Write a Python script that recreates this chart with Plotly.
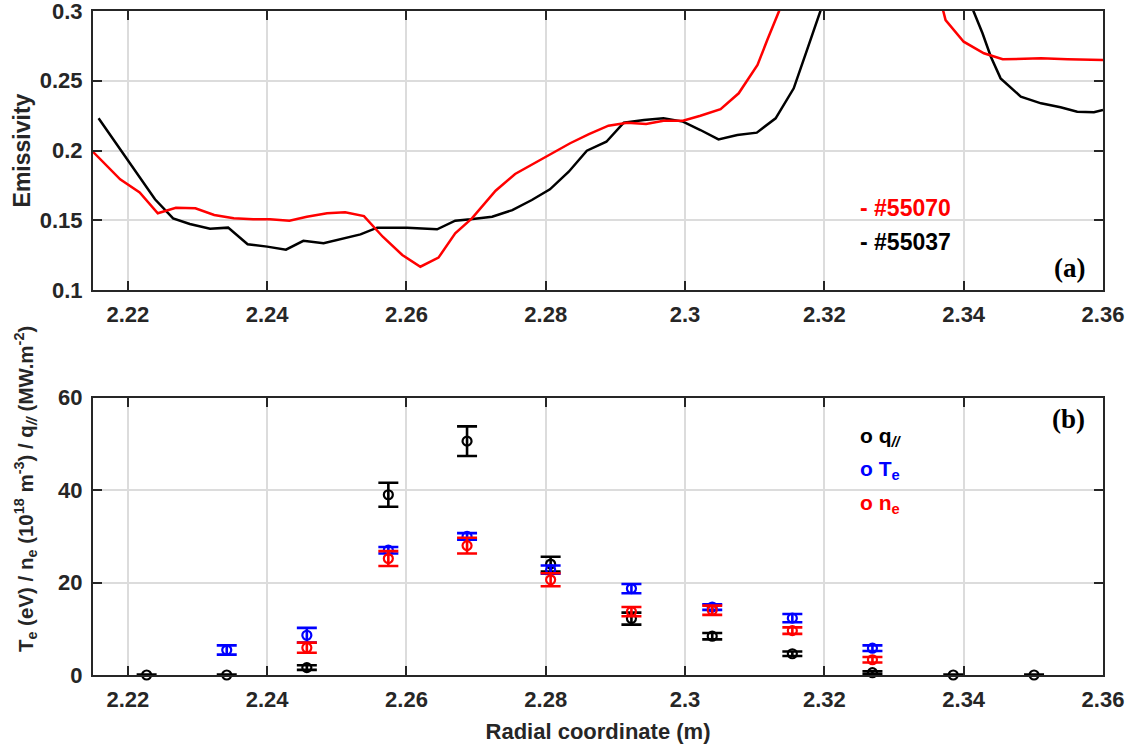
import plotly.graph_objects as go

# ---- Panel (a): emissivity profiles ----
r_55037 = [2.2158, 2.2239, 2.2265, 2.2289, 2.2318, 2.2344, 2.2372, 2.2400, 2.2427, 2.2452,
           2.2481, 2.2510, 2.2534, 2.2558, 2.2601, 2.2644, 2.2670, 2.2692, 2.2723, 2.2752,
           2.2780, 2.2806, 2.2833, 2.2859, 2.2887, 2.2912, 2.2941, 2.2969, 2.2997, 2.3022,
           2.3048, 2.3075, 2.3103, 2.3130, 2.3156, 2.3175, 2.3195, 2.3215, 2.3300, 2.3390,
           2.3414, 2.3427, 2.3439, 2.3453, 2.3482, 2.3511, 2.3539, 2.3563, 2.3587, 2.3600]
e_55037 = [0.2231, 0.1650, 0.1514, 0.1473, 0.1440, 0.1447, 0.1328, 0.1311, 0.1289, 0.1353,
           0.1335, 0.1370, 0.1399, 0.1447, 0.1447, 0.1435, 0.1497, 0.1507, 0.1525, 0.1573,
           0.1645, 0.1722, 0.1848, 0.1999, 0.2063, 0.2199, 0.2219, 0.2231, 0.2207, 0.2147,
           0.2080, 0.2111, 0.2128, 0.2231, 0.2446, 0.2720, 0.3000, 0.3300, 0.4200, 0.3400,
           0.3000, 0.2840, 0.2672, 0.2517, 0.2386, 0.2338, 0.2310, 0.2278, 0.2274, 0.2290]

r_55070 = [2.2150, 2.2189, 2.2217, 2.2243, 2.2269, 2.2297, 2.2324, 2.2352, 2.2380, 2.2404,
           2.2432, 2.2457, 2.2486, 2.2512, 2.2539, 2.2566, 2.2594, 2.2620, 2.2646, 2.2670,
           2.2694, 2.2728, 2.2756, 2.2783, 2.2809, 2.2835, 2.2862, 2.2890, 2.2917, 2.2944,
           2.2969, 2.2997, 2.3022, 2.3051, 2.3077, 2.3104, 2.3118, 2.3135, 2.3155, 2.3250,
           2.3350, 2.3371, 2.3374, 2.3400, 2.3429, 2.3456, 2.3511, 2.3549, 2.3600]
e_55070 = [0.1991, 0.1793, 0.1700, 0.1550, 0.1590, 0.1586, 0.1538, 0.1514, 0.1507, 0.1507,
           0.1497, 0.1525, 0.1550, 0.1557, 0.1530, 0.1382, 0.1251, 0.1167, 0.1232, 0.1406,
           0.1514, 0.1712, 0.1832, 0.1908, 0.1984, 0.2052, 0.2118, 0.2178, 0.2199, 0.2190,
           0.2214, 0.2214, 0.2249, 0.2297, 0.2410, 0.2613, 0.2792, 0.3000, 0.3300, 0.4200,
           0.3400, 0.3000, 0.2935, 0.2780, 0.2697, 0.2654, 0.2661, 0.2654, 0.2649]

# ---- Panel (b): probe measurements ----
r_q = [2.2227, 2.2342, 2.2457, 2.2574, 2.2687, 2.2807, 2.2923, 2.3039, 2.3154, 2.3269, 2.3385, 2.3501]
q_par = [0.0, 0.0, 1.6, 39.0, 50.6, 24.0, 12.2, 8.4, 4.6, 0.5, 0.0, 0.0]
q_err = [0.1, 0.1, 0.5, 2.6, 3.2, 1.6, 1.3, 0.7, 0.5, 0.3, 0.1, 0.1]

r_T = [2.2342, 2.2457, 2.2574, 2.2687, 2.2807, 2.2923, 2.3039, 2.3154, 2.3269]
T_e = [5.4, 8.6, 27.0, 30.0, 22.8, 18.7, 14.7, 12.3, 5.8]
T_err = [1.0, 1.6, 0.7, 0.7, 0.9, 1.0, 0.6, 0.9, 0.6]

r_n = [2.2457, 2.2574, 2.2687, 2.2807, 2.2923, 2.3039, 2.3154, 2.3269]
n_e = [5.9, 25.2, 28.0, 20.6, 13.7, 14.0, 9.6, 3.3]
n_err = [1.1, 1.6, 1.7, 1.4, 1.0, 1.0, 0.7, 0.6]

x_ticks = [2.22, 2.24, 2.26, 2.28, 2.30, 2.32, 2.34, 2.36]
x_ticktext = ["2.22", "2.24", "2.26", "2.28", "2.3", "2.32", "2.34", "2.36"]
ya_ticks = [0.1, 0.15, 0.2, 0.25, 0.3]
ya_ticktext = ["0.1", "0.15", "0.2", "0.25", "0.3"]
yb_ticks = [0, 20, 40, 60]

AX = "#262626"
GRID = "#dcdcdc"
FONT = "Liberation Sans, Arial, sans-serif"
SERIF = "Liberation Serif, Times New Roman, serif"

fig = go.Figure()

fig.add_trace(go.Scatter(x=r_55037, y=e_55037, mode="lines",
                         line=dict(color="black", width=2.5), xaxis="x", yaxis="y",
                         showlegend=False))
fig.add_trace(go.Scatter(x=r_55070, y=e_55070, mode="lines",
                         line=dict(color="#ff0000", width=2.5), xaxis="x", yaxis="y",
                         showlegend=False))

def probe(xs, ys, errs, color):
    return go.Scatter(x=xs, y=ys, mode="markers", xaxis="x2", yaxis="y2",
                      marker=dict(symbol="circle-open", size=9, color=color,
                                  line=dict(width=2.2, color=color)),
                      error_y=dict(type="data", array=errs, visible=True,
                                   color=color, thickness=2.6, width=10),
                      cliponaxis=False, showlegend=False)

fig.add_trace(probe(r_q, q_par, q_err, "black"))
fig.add_trace(probe(r_T, T_e, T_err, "#0000ff"))
fig.add_trace(probe(r_n, n_e, n_err, "#ff0000"))

axis_common = dict(showline=True, mirror="ticks", linecolor=AX, linewidth=2,
                   ticks="inside", ticklen=9, tickwidth=2, tickcolor=AX,
                   showgrid=True, gridcolor=GRID, gridwidth=1.5, zeroline=False,
                   ticklabeloverflow="allow",
                   tickfont=dict(family=FONT, size=22, color=AX, weight="bold"))

fig.update_layout(
    width=1128, height=748,
    paper_bgcolor="white", plot_bgcolor="white",
    margin=dict(l=93, r=25, t=11, b=73, autoexpand=False),
    xaxis=dict(domain=[0, 1], range=[2.215, 2.36], anchor="y",
               tickvals=x_ticks, ticktext=x_ticktext, ticklabelstandoff=4, **axis_common),
    yaxis=dict(domain=[0.5798, 1], range=[0.1, 0.3], anchor="x",
               tickvals=ya_ticks, ticktext=ya_ticktext, ticklabelstandoff=4, **axis_common),
    xaxis2=dict(domain=[0, 1], range=[2.215, 2.36], anchor="y2",
                tickvals=x_ticks, ticktext=x_ticktext, ticklabelstandoff=4,
                title=dict(text="Radial coordinate (m)", standoff=12,
                           font=dict(family=FONT, size=22, color=AX, weight="bold")),
                **axis_common),
    yaxis2=dict(domain=[0, 0.4176], range=[0, 60], anchor="x2",
                tickvals=yb_ticks, ticklabelstandoff=4, **axis_common),
)

ann_font = dict(family=FONT, size=23, weight="bold")
leg_font = dict(family=FONT, size=21, weight="bold")
annotations = [
    dict(text="Emissivity", x=-0.0703, y=0.79, xref="paper", yref="paper", textangle=-90,
         xanchor="center", yanchor="middle",
         showarrow=False, font=dict(family=FONT, size=23, color=AX, weight="bold")),
    dict(text="T<sub>e</sub> (eV) / n<sub>e</sub> (10<sup>18</sup> m<sup>-3</sup>) / q<sub><i>//</i></sub> (MW.m<sup>-2</sup>)",
         x=-0.0673, y=0.28, xref="paper", yref="paper", textangle=-90,
         xanchor="center", yanchor="middle",
         showarrow=False, font=dict(family=FONT, size=20.5, color=AX, weight="bold")),
    dict(text="- #55070", x=0.804, y=0.703, xref="paper", yref="paper", xanchor="center",
         yanchor="middle", showarrow=False, font=dict(color="#ff0000", **ann_font)),
    dict(text="- #55037", x=0.804, y=0.652, xref="paper", yref="paper", xanchor="center",
         yanchor="middle", showarrow=False, font=dict(color="black", **ann_font)),
    dict(text="(a)", x=0.9845, y=0.613, xref="paper", yref="paper", xanchor="right",
         yanchor="middle", showarrow=False,
         font=dict(family=SERIF, size=27, color="black", weight="bold")),
    dict(text="(b)", x=0.9845, y=0.385, xref="paper", yref="paper", xanchor="right",
         yanchor="middle", showarrow=False,
         font=dict(family=SERIF, size=27, color="black", weight="bold")),
    dict(text="o q<sub><i>//</i></sub>", x=0.757, y=0.358, xref="paper", yref="paper", xanchor="left",
         yanchor="middle", showarrow=False, font=dict(color="black", **leg_font)),
    dict(text="o T<sub>e</sub>", x=0.757, y=0.308, xref="paper", yref="paper", xanchor="left",
         yanchor="middle", showarrow=False, font=dict(color="#0000ff", **leg_font)),
    dict(text="o n<sub>e</sub>", x=0.757, y=0.258, xref="paper", yref="paper", xanchor="left",
         yanchor="middle", showarrow=False, font=dict(color="#ff0000", **leg_font)),
]
fig.update_layout(annotations=annotations)

fig.write_html("out.html", config={"displayModeBar": False},
               post_script="document.body.style.margin='0';document.body.style.overflow='hidden';")
